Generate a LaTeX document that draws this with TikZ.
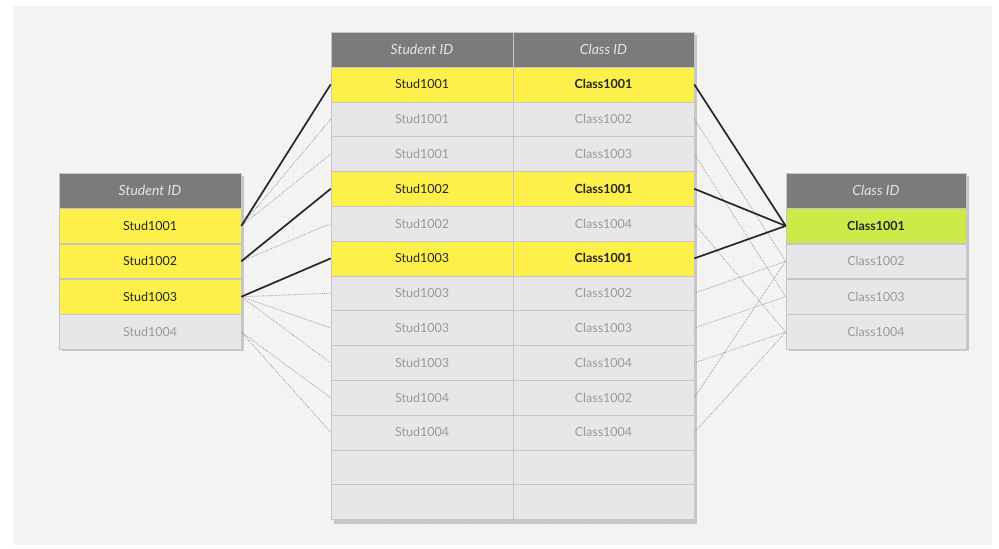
\documentclass[tikz,border=0pt]{standalone}
\usepackage{fontspec}
\setmainfont{Lato}
\usetikzlibrary{positioning,calc}
\definecolor{hdrgray}{HTML}{7B7B7B}
\definecolor{cellgray}{HTML}{E7E7E9}
\definecolor{rulegray}{HTML}{C6C6C8}
\definecolor{hiyellow}{HTML}{FDF04A}
\definecolor{higreen}{HTML}{CDEB48}
\definecolor{paper}{HTML}{F4F4F2}
\definecolor{txtgray}{HTML}{9A9A9A}

\tikzset{
  cellbox/.style={draw=rulegray, line width=0.6pt, fill=cellgray, text=txtgray, minimum height=34.8pt, inner sep=0pt, font=\fontsize{12.5}{12.5}\selectfont},
  hdrbox/.style={cellbox, fill=hdrgray, text=white!90!black, font=\fontsize{14}{14}\selectfont\itshape},
  hitbox/.style={cellbox, fill=hiyellow, text=black!85},
  hitbold/.style={hitbox, font=\fontsize{12.5}{12.5}\selectfont\bfseries},
  link/.style={line width=1.7pt, black!85},
  faint/.style={densely dotted, line width=0.8pt, gray!75},
  gridline/.style={line width=0.4pt, black!6},
  shade/.style={fill=black!22},
}

\begin{document}
\begin{tikzpicture}[x=1pt, y=-1pt]
  \useasboundingbox (0,0) rectangle (999,549);
  % paper background
  \fill[paper] (13,6) rectangle (992,545);
  \foreach \gx in {23,33,...,983} \draw[gridline] (\gx,6) -- (\gx,545);
  \foreach \gy in {16,26,...,536} \draw[gridline] (13,\gy) -- (992,\gy);

  % shadows
  \fill[shade] (62,176) rectangle (244,351);
  \fill[shade] (334,35) rectangle (697,524);
  \fill[shade] (789,176) rectangle (969,351);

  % left table
  \node[hdrbox, minimum width=182pt] (lh) at (150,190.5) {Student ID};
  \node[hitbox, minimum width=182pt, below=0pt of lh] (s1) {Stud1001};
  \node[hitbox, minimum width=182pt, below=0pt of s1] (s2) {Stud1002};
  \node[hitbox, minimum width=182pt, below=0pt of s2] (s3) {Stud1003};
  \node[cellbox, minimum width=182pt, below=0pt of s3] (s4) {Stud1004};

  % middle table
  \node[hdrbox, minimum width=182pt] (mhs) at (422,49.5) {Student ID};
  \node[hdrbox, minimum width=181pt] (mhc) at (603.5,49.5) {Class ID};
  \foreach \sid/\cid/\sa/\sb [count=\i] in {
      Stud1001/Class1001/hitbox/hitbold,
      Stud1001/Class1002/cellbox/cellbox,
      Stud1001/Class1003/cellbox/cellbox,
      Stud1002/Class1001/hitbox/hitbold,
      Stud1002/Class1004/cellbox/cellbox,
      Stud1003/Class1001/hitbox/hitbold,
      Stud1003/Class1002/cellbox/cellbox,
      Stud1003/Class1003/cellbox/cellbox,
      Stud1003/Class1004/cellbox/cellbox,
      Stud1004/Class1002/cellbox/cellbox,
      Stud1004/Class1004/cellbox/cellbox,
      {}/{}/cellbox/cellbox,
      {}/{}/cellbox/cellbox} {
    \node[\sa, minimum width=182pt] (ms\i) at (422,{67+34.8*(\i-0.5)}) {\sid};
    \node[\sb, minimum width=181pt] (mc\i) at (603.5,{67+34.8*(\i-0.5)}) {\cid};
  }

  % right table
  \node[hdrbox, minimum width=180pt] (rh) at (876,190.5) {Class ID};
  \node[hitbold, fill=higreen, minimum width=180pt, below=0pt of rh] (c1) {Class1001};
  \node[cellbox, minimum width=180pt, below=0pt of c1] (c2) {Class1002};
  \node[cellbox, minimum width=180pt, below=0pt of c2] (c3) {Class1003};
  \node[cellbox, minimum width=180pt, below=0pt of c3] (c4) {Class1004};

  % student side
  \draw[faint] (s1.east) -- (ms2.west);
  \draw[faint] (s1.east) -- (ms3.west);
  \draw[faint] (s2.east) -- (ms5.west);
  \foreach \r in {7,8,9} \draw[faint] (s3.east) -- (ms\r.west);
  \foreach \r in {10,11} \draw[faint] (s4.east) -- (ms\r.west);
  \draw[link] (s1.east) -- (ms1.west);
  \draw[link] (s2.east) -- (ms4.west);
  \draw[link] (s3.east) -- (ms6.west);

  % class side
  \foreach \r in {2,7,10} \draw[faint] (mc\r.east) -- (c2.west);
  \foreach \r in {3,8} \draw[faint] (mc\r.east) -- (c3.west);
  \foreach \r in {5,9,11} \draw[faint] (mc\r.east) -- (c4.west);
  \foreach \r in {1,4,6} \draw[link] (mc\r.east) -- (c1.west);
\end{tikzpicture}
\end{document}
